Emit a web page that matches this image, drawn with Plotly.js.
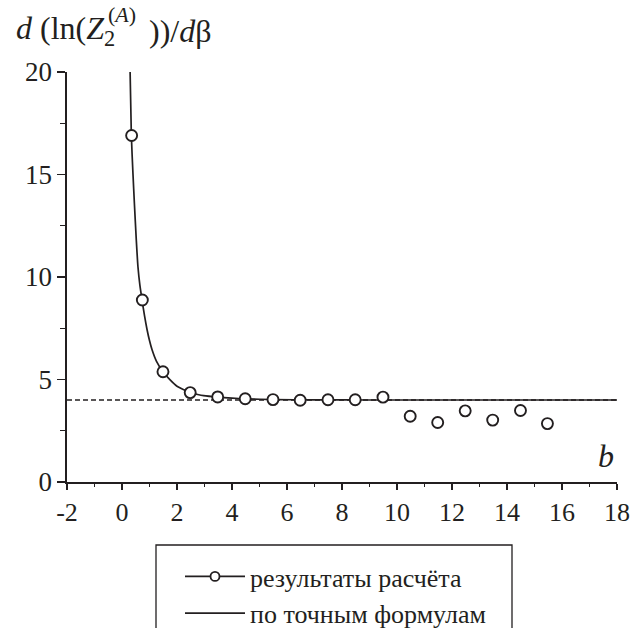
<!DOCTYPE html>
<html>
<head>
<meta charset="utf-8">
<script src="https://cdn.plot.ly/plotly-3.0.1.min.js"></script>
<style>
html,body{margin:0;padding:0;background:#fff;}
#chart{width:637px;height:628px;}
</style>
</head>
<body>
<div id="chart"></div>
<script>
// ---- data ----
const pointsX = [0.35, 0.74, 1.49, 2.48, 3.48, 4.48, 5.49, 6.48, 7.49, 8.48, 9.49, 10.48, 11.48, 12.48, 13.48, 14.49, 15.47];
const pointsY = [16.9, 8.88, 5.38, 4.36, 4.15, 4.06, 4.02, 3.99, 4.01, 4.01, 4.14, 3.21, 2.90, 3.47, 3.02, 3.49, 2.85];
const curveX = [0.295, 0.34, 0.40, 0.45, 0.52, 0.58, 0.65, 0.73, 0.82, 0.91, 1.0, 1.09, 1.25, 1.49, 1.75, 2.0, 2.25, 2.48, 2.75, 2.97, 3.48, 4.0, 4.48, 5.5, 7.0, 9.0, 12.0, 18.0];
const curveY = [20.0, 16.9, 15.0, 13.6, 11.8, 10.5, 9.6, 8.87, 8.1, 7.44, 6.9, 6.46, 5.9, 5.38, 4.98, 4.67, 4.50, 4.37, 4.27, 4.21, 4.14, 4.09, 4.06, 4.02, 4.01, 4.0, 4.0, 4.0];
const asymX = [-2, 18];
const asymY = [4, 4];
const xTickVals = [-2, 0, 2, 4, 6, 8, 10, 12, 14, 16, 18];
const xTickText = ["-2", "0", "2", "4", "6", "8", "10", "12", "14", "16", "18"];
const yTickVals = [0, 5, 10, 15, 20];
const yTickText = ["0", "5", "10", "15", "20"];
const legendPoints = "результаты расчёта";
const legendCurve = "по точным формулам";

// ---- layout helpers ----
const W = 637, H = 628, ML = 67, MR = 20, MT = 72, MB = 146;
const PW = W - ML - MR, PH = H - MT - MB;
const px2x = p => (p - ML) / PW;
const px2y = p => (H - MB - p) / PH;
const INK = '#231f20';
const FONT = 'Liberation Serif';

const traces = [
  { // legend entry for the computed points (line + circle symbol)
    x: [null], y: [null], mode: 'lines+markers', name: legendPoints,
    line: {color: INK, width: 1.6},
    marker: {symbol: 'circle', size: 9, color: '#fff', line: {color: INK, width: 1.8}},
    hoverinfo: 'skip', showlegend: true
  },
  {
    x: asymX, y: asymY, mode: 'lines', showlegend: false,
    line: {color: INK, width: 1.4, dash: '5px,3px'}, hoverinfo: 'skip'
  },
  {
    x: curveX, y: curveY, mode: 'lines', name: legendCurve, showlegend: true,
    line: {color: INK, width: 1.7, shape: 'spline', smoothing: 0.6}, hoverinfo: 'skip'
  },
  {
    x: pointsX, y: pointsY, mode: 'markers', showlegend: false, name: legendPoints,
    marker: {symbol: 'circle', size: 11, color: '#fff', line: {color: INK, width: 1.9}},
    hoverinfo: 'skip', cliponaxis: false
  }
];

const layout = {
  width: W, height: H,
  margin: {l: ML, r: MR, t: MT, b: MB, autoexpand: false},
  paper_bgcolor: '#fff', plot_bgcolor: '#fff',
  font: {family: FONT, color: INK, size: 24},
  showlegend: true,
  xaxis: {
    range: [-2, 18], showgrid: false, zeroline: false,
    showline: true, linecolor: INK, linewidth: 1.6,
    tickmode: 'array', tickvals: xTickVals, ticktext: xTickText,
    ticks: 'outside', ticklen: 6, tickwidth: 1.6, tickcolor: INK,
    minor: {dtick: 1, tick0: 0, ticks: 'outside', ticklen: 3, tickwidth: 1.4, tickcolor: INK, showgrid: false},
    tickfont: {family: FONT, size: 26, color: INK}
  },
  yaxis: {
    range: [0, 20], showgrid: false, zeroline: false,
    showline: true, linecolor: INK, linewidth: 1.6,
    tickmode: 'array', tickvals: yTickVals, ticktext: yTickText,
    ticks: 'outside', ticklen: 8, tickwidth: 1.6, tickcolor: INK,
    minor: {dtick: 2.5, tick0: 0, ticks: 'outside', ticklen: 5, tickwidth: 1.4, tickcolor: INK, showgrid: false},
    tickfont: {family: FONT, size: 27, color: INK}
  },
  legend: {
    x: px2x(180), y: px2y(553), xanchor: 'left', yanchor: 'top',
    xref: 'paper', yref: 'paper',
    bgcolor: 'rgba(0,0,0,0)', borderwidth: 0,
    font: {family: FONT, size: 26, color: INK},
    itemwidth: 60, traceorder: 'normal'
  },
  shapes: [
    {type: 'rect', xref: 'paper', yref: 'paper',
     x0: px2x(156), x1: px2x(512), y0: px2y(545), y1: px2y(660),
     line: {color: INK, width: 1.3}, fillcolor: 'rgba(0,0,0,0)'}
  ],
  annotations: [
    {xref: 'paper', yref: 'paper', x: px2x(14), y: px2y(31), xanchor: 'left', yanchor: 'middle',
     text: '<i>d</i> (ln(<i>Z</i><sub>2</sub>', showarrow: false, font: {family: FONT, size: 32, color: INK}},
    {xref: 'paper', yref: 'paper', x: px2x(106), y: px2y(14), xanchor: 'left', yanchor: 'middle',
     text: '(<i>A</i>)', showarrow: false, font: {family: FONT, size: 22, color: INK}},
    {xref: 'paper', yref: 'paper', x: px2x(147), y: px2y(31), xanchor: 'left', yanchor: 'middle',
     text: '))/<i>d</i>β', showarrow: false, font: {family: FONT, size: 32, color: INK}},
    {xref: 'paper', yref: 'paper', x: px2x(606), y: px2y(456), xanchor: 'center', yanchor: 'middle',
     text: '<i>b</i>', showarrow: false, font: {family: FONT, size: 32, color: INK}}
  ]
};

Plotly.newPlot('chart', traces, layout, {displayModeBar: false, staticPlot: true});
</script>
</body>
</html>
